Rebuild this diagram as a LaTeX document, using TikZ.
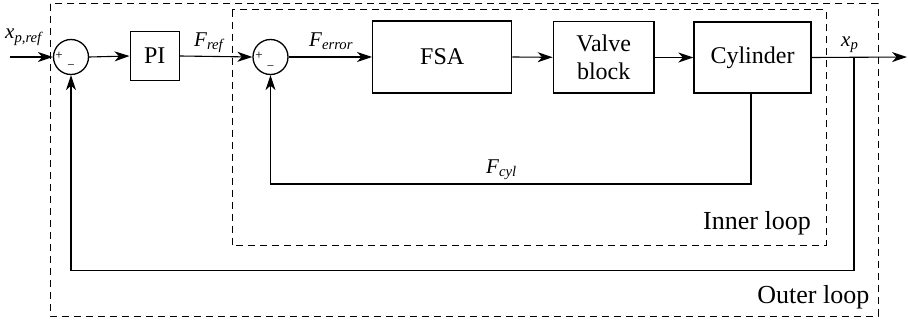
\documentclass[tikz,border=0pt]{standalone}
\usepackage{fontspec}
\newfontfamily\tms{Liberation Serif}
\usetikzlibrary{arrows.meta}
\newcommand\boxfont{\fontsize{24}{29}\selectfont\tms}
\newcommand\lblfont{\fontsize{21}{24}\selectfont\tms\itshape}
\newcommand\loopfont{\fontsize{26}{28}\selectfont\tms}
\newcommand\signfont{\fontsize{13}{14}\selectfont\tms}
\newcommand\lab[2]{#1\textsubscript{#2}}
\begin{document}
\begin{tikzpicture}[x=1pt,y=-1pt,
  blk/.style={draw,line width=1.4pt,inner sep=0pt,font=\boxfont,align=center},
  sumj/.style={draw,circle,line width=1.3pt,inner sep=0pt,minimum size=35pt},
  conn/.style={line width=1.1pt},
  arr/.style={conn,-{Stealth[length=15pt,width=10pt,inset=4.5pt]}},
  loopbox/.style={draw,line width=1pt,dash pattern=on 7pt off 5pt},
  lbl/.style={font=\lblfont,inner sep=0pt},
  sign/.style={font=\signfont,inner sep=0pt}]
\useasboundingbox (0,0) rectangle (908,323);
% loop frames
\draw[loopbox] (50,4) rectangle (878,316);
\draw[loopbox] (232,10) rectangle (826,245.7);
% blocks
\node[sumj] (s1) at (71,57) {};
\node[blk,minimum width=49pt,minimum height=49pt] (pi) at (154.7,56) {PI};
\node[sumj] (s2) at (270.5,57) {};
\node[blk,minimum width=139pt,minimum height=72pt] (fsa) at (442.2,57) {FSA};
\node[blk,minimum width=100.7pt,minimum height=71.3pt] (valve) at (603.7,57.3) {Valve\\[-1pt]block};
\node[blk,minimum width=117pt,minimum height=71pt] (cyl) at (752.5,57.5) {Cylinder};
% signs
\node[sign] (p1) at (59,55.5) {+};
\node[sign] (m1) at (71,67.5) {\textminus};
\node[sign] (p2) at (259,56) {+};
\node[sign] (m2) at (270.5,68) {\textminus};
% coordinates
\coordinate (in) at (10,57);
\coordinate (out) at (907,57);
\coordinate (br) at (854,57);
\coordinate (obr) at (854,270.7);
\coordinate (obl) at (71,270.7);
\coordinate (ibt) at (751,93);
\coordinate (ibr) at (751,184);
\coordinate (ibl) at (270.5,184);
% connectors
\draw[arr] (in) -- (s1.west);
\draw[arr] (s1.east) -- (pi.west);
\draw[arr] (pi.east) -- (s2.west);
\draw[arr] (s2.east) -- (fsa.west);
\draw[arr] (fsa.east) -- (valve.west);
\draw[arr] (valve.east |- cyl.west) -- (cyl.west);
\draw[arr] (cyl.east) -- (out);
\draw[arr] (br) -- (obr) -- (obl) -- (s1.south);
\draw[arr] (ibt) -- (ibr) -- (ibl) -- (s2.south);
% labels
\node[lbl,anchor=base west] (lxr) at (5,39) {\lab{x}{p,ref}};
\node[lbl,anchor=base west] (lfr) at (194,46.7) {\lab{F}{ref}};
\node[lbl,anchor=base west] (lfe) at (309,46.7) {\lab{F}{error}};
\node[lbl,anchor=base west] (lfc) at (486,173.3) {\lab{F}{cyl}};
\node[lbl,anchor=base west] (lxp) at (841,46.7) {\lab{x}{p}};
\node[font=\loopfont,inner sep=0pt,anchor=base east] (il) at (811,229.3) {Inner loop};
\node[font=\loopfont,inner sep=0pt,anchor=base east] (ol) at (869.5,303.3) {Outer loop};
\end{tikzpicture}
\end{document}
